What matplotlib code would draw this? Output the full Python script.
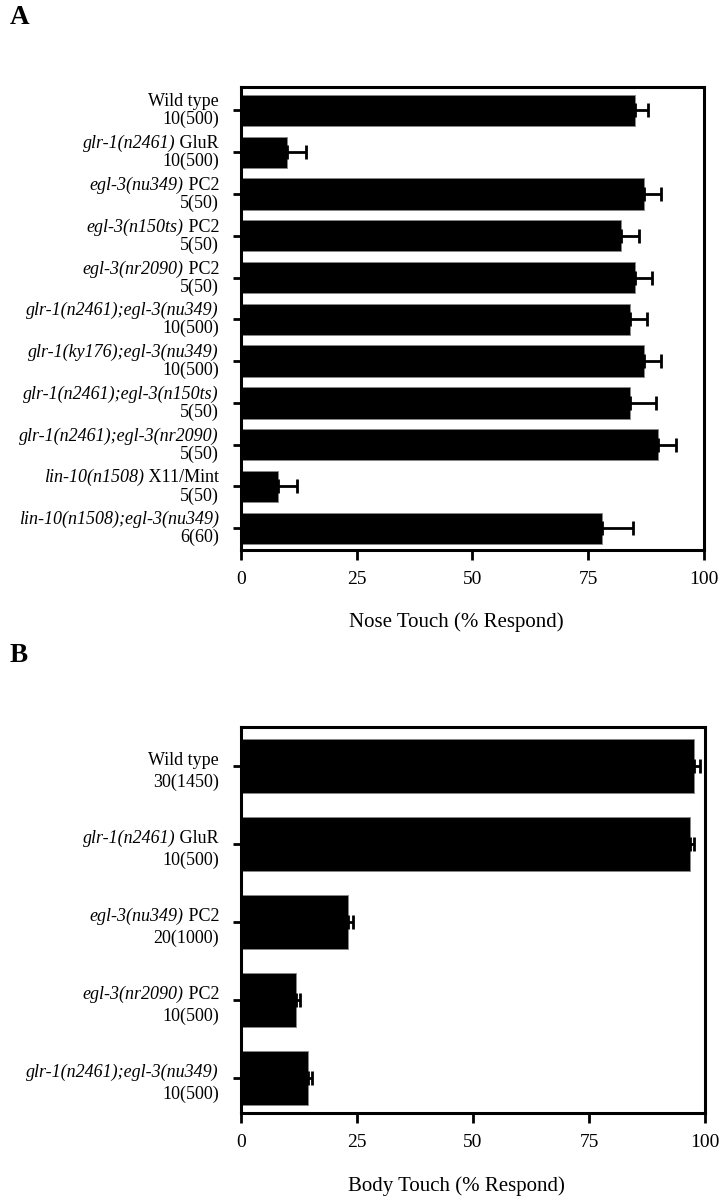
import matplotlib
matplotlib.use("Agg")
import matplotlib.pyplot as plt

plt.rcParams['font.family'] = ['Liberation Serif', 'DejaVu Serif']

# Panel A: nose touch
nose_ital = ["", "glr-1(n2461)", "egl-3(nu349)", "egl-3(n150ts)", "egl-3(nr2090)",
             "glr-1(n2461);egl-3(nu349)", "glr-1(ky176);egl-3(nu349)",
             "glr-1(n2461);egl-3(n150ts)", "glr-1(n2461);egl-3(nr2090)",
             "lin-10(n1508)", "lin-10(n1508);egl-3(nu349)"]
nose_suffix = ["Wild type", " GluR", " PC2", " PC2", " PC2", "", "", "", "", " X11/Mint", ""]
nose_n = ["10(500)", "10(500)", "5(50)", "5(50)", "5(50)", "10(500)", "10(500)",
          "5(50)", "5(50)", "5(50)", "6(60)"]
nose_val = [85, 10, 87, 82, 85, 84, 87, 84, 90, 8, 78]
nose_err = [3, 4, 3.7, 4, 3.8, 3.7, 3.8, 5.6, 4, 4, 6.7]

# Panel B: body touch
body_ital = ["", "glr-1(n2461)", "egl-3(nu349)", "egl-3(nr2090)", "glr-1(n2461);egl-3(nu349)"]
body_suffix = ["Wild type", " GluR", " PC2", " PC2", ""]
body_n = ["30(1450)", "10(500)", "20(1000)", "10(500)", "10(500)"]
body_val = [97.6, 96.8, 23, 11.9, 14.4]
body_err = [1.4, 0.8, 1.1, 0.8, 0.9]

W, H = 728, 1199
fig = plt.figure(figsize=(W / 100, H / 100), dpi=100)

FS = 13      # category labels
FS_TICK = 14
FS_LAB = 15


def px_axes(left, top, right, bottom):
    return fig.add_axes([left / W, 1 - bottom / H, (right - left) / W, (bottom - top) / H])


def draw_panel(ax, ital, suffix, nlab, vals, errs, height, ylim, l1, l2, xlab, labely):
    ypos = list(range(len(vals)))
    ax.barh(ypos, vals, height=height, color='black', edgecolor='#888888', linewidth=0.6, zorder=2)
    ax.errorbar(vals, ypos, xerr=[[0] * len(errs), errs], fmt='none', ecolor='black',
                elinewidth=2, capsize=5, capthick=2, zorder=3)
    ax.set_xlim(0, 100)
    ax.set_ylim(*ylim)
    ax.set_xticks([0, 25, 50, 75, 100])
    ax.set_yticks(ypos)
    ax.set_yticklabels([])
    ax.tick_params(axis='x', length=7, width=2, pad=8, labelsize=FS_TICK)
    ax.tick_params(axis='y', length=6, width=2)
    for s in ax.spines.values():
        s.set_linewidth(2.2)
    ax.set_xlabel(xlab, fontsize=FS_LAB)
    ax.xaxis.set_label_coords(0.464, labely)

    for i in ypos:
        ax.annotate(nlab[i], xy=(0, i), xycoords=('axes fraction', 'data'),
                    xytext=(-22, l2), textcoords='offset pixels',
                    ha='right', va='baseline', fontsize=FS)
        if suffix[i]:
            t = ax.annotate(suffix[i], xy=(0, i), xycoords=('axes fraction', 'data'),
                            xytext=(-22, l1), textcoords='offset pixels',
                            ha='right', va='baseline', fontsize=FS)
            if ital[i]:
                ax.annotate(ital[i], xy=(0, 0), xycoords=t, ha='right', va='bottom',
                            fontsize=FS, style='italic')
        else:
            ax.annotate(ital[i], xy=(0, i), xycoords=('axes fraction', 'data'),
                        xytext=(-22, l1), textcoords='offset pixels',
                        ha='right', va='baseline', fontsize=FS, style='italic')


axA = px_axes(241, 87, 704, 550)
draw_panel(axA, nose_ital, nose_suffix, nose_n, nose_val, nose_err, 0.75,
           (10.52, -0.56), 4, -14, "Nose Touch (% Respond)", -0.134)

axB = px_axes(241, 727, 705, 1113)
draw_panel(axB, body_ital, body_suffix, body_n, body_val, body_err, 0.7,
           (4.45, -0.5), 1, -21, "Body Touch (% Respond)", -0.163)

fig.text(10 / W, 1 - 18 / H, "A", fontsize=19.5, fontweight='bold', ha='left', va='center')
fig.text(10 / W, 1 - 655 / H, "B", fontsize=19.5, fontweight='bold', ha='left', va='center')

fig.savefig("out.png", dpi=100)
